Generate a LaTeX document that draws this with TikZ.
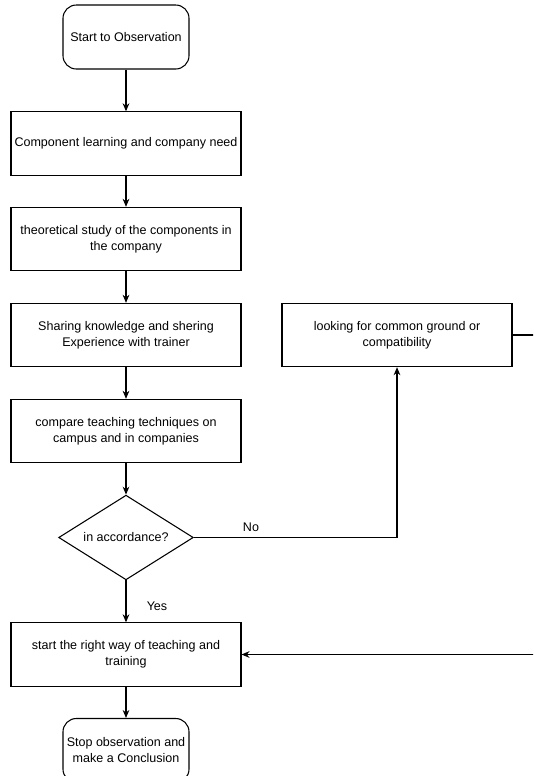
\documentclass[tikz,border=0pt]{standalone}
\usepackage{fontspec}
\setmainfont{Liberation Sans}
\usepackage{xcolor}
\usetikzlibrary{shapes.geometric,arrows.meta}
\definecolor{ink}{HTML}{000000}
\definecolor{paper}{HTML}{FFFFFF}
\tikzset{
  base/.style={draw=ink, line width=0.8pt, align=center, text=ink, font=\fontsize{9.4}{12}\selectfont},
  proc/.style={base, rectangle, minimum width=172.5pt, minimum height=47.5pt, inner sep=2pt},
  term/.style={base, rectangle, rounded corners=10pt, minimum width=94.5pt, minimum height=48pt, inner sep=2pt},
  cond/.style={base, diamond, aspect=1.6, minimum width=101pt, minimum height=63.5pt, inner sep=0pt},
  flow/.style={draw=ink, line width=0.8pt, -{Stealth[length=6pt,width=5pt]}},
  lab/.style={text=ink, font=\fontsize{9.4}{12}\selectfont},
}
\begin{document}
\begin{tikzpicture}[x=0.75pt, y=-0.75pt]
  \clip (0,0) rectangle (533,776);
  \fill[paper] (0,0) rectangle (533,776);
  \node[term] (start) at (126,37) {Start to Observation};
  \node[proc] (need) at (126,143.5) {Component learning and company need};
  \node[proc] (study) at (126,239) {theoretical study of the components in\\the company};
  \node[proc] (share) at (126,335) {Sharing knowledge and shering\\Experience with trainer};
  \node[proc] (look) at (397,335) {looking for common ground or\\compatibility};
  \node[proc] (comp) at (126,431) {compare teaching techniques on\\campus and in companies};
  \node[cond] (acc) at (126,537.5) {in accordance?};
  \node[proc] (train) at (126,654.5) {start the right way of teaching and\\training};
  \node[term] (stop) at (126,750.5) {Stop observation and\\make a Conclusion};
  \node[lab] (no) at (251,527) {No};
  \node[lab] (yes) at (157,606) {Yes};
  \draw[flow] (start) -- (need);
  \draw[flow] (need) -- (study);
  \draw[flow] (study) -- (share);
  \draw[flow] (share) -- (comp);
  \draw[flow] (comp) -- (acc);
  \draw[flow] (acc) -- (train);
  \draw[flow] (train) -- (stop);
  \draw[flow] (acc.east) -| (look.south);
  \draw[flow] (look.east) -- ++(40,0) |- (train.east);
\end{tikzpicture}
\end{document}
